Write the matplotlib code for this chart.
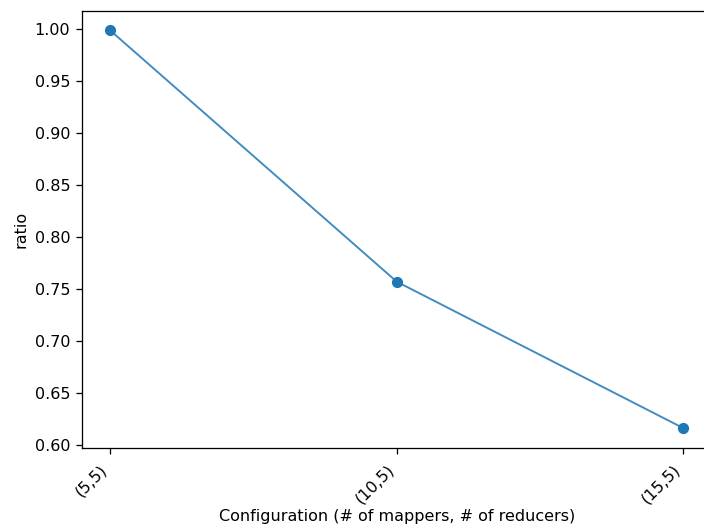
import matplotlib
matplotlib.use("Agg")
import matplotlib.pyplot as plt

configs = ["(5,5)", "(10,5)", "(15,5)"]
ratios = [0.999, 0.757, 0.616]

DPI = 115
W, H = 704, 528
fig = plt.figure(figsize=(W/DPI, H/DPI), dpi=DPI)
left, right, top, bottom = 81.5, 712.0, 10.5, 448.0
ax = fig.add_axes([left/W, 1-bottom/H, (right-left)/W, (bottom-top)/H])
x = list(range(len(configs)))
ax.plot(x, ratios, color="#1f77b4", linewidth=1.2, alpha=0.85)
ax.plot(x, ratios, "o", color="#1f77b4", markersize=6)
ax.set_xticks(x)
ax.set_xticklabels(configs, rotation=45, ha="right")
ax.tick_params(axis="x", pad=5)
ax.set_ylabel("ratio")
ax.set_xlabel("Configuration (# of mappers, # of reducers)", labelpad=1.5)
fig.savefig("out.png", dpi=DPI)
